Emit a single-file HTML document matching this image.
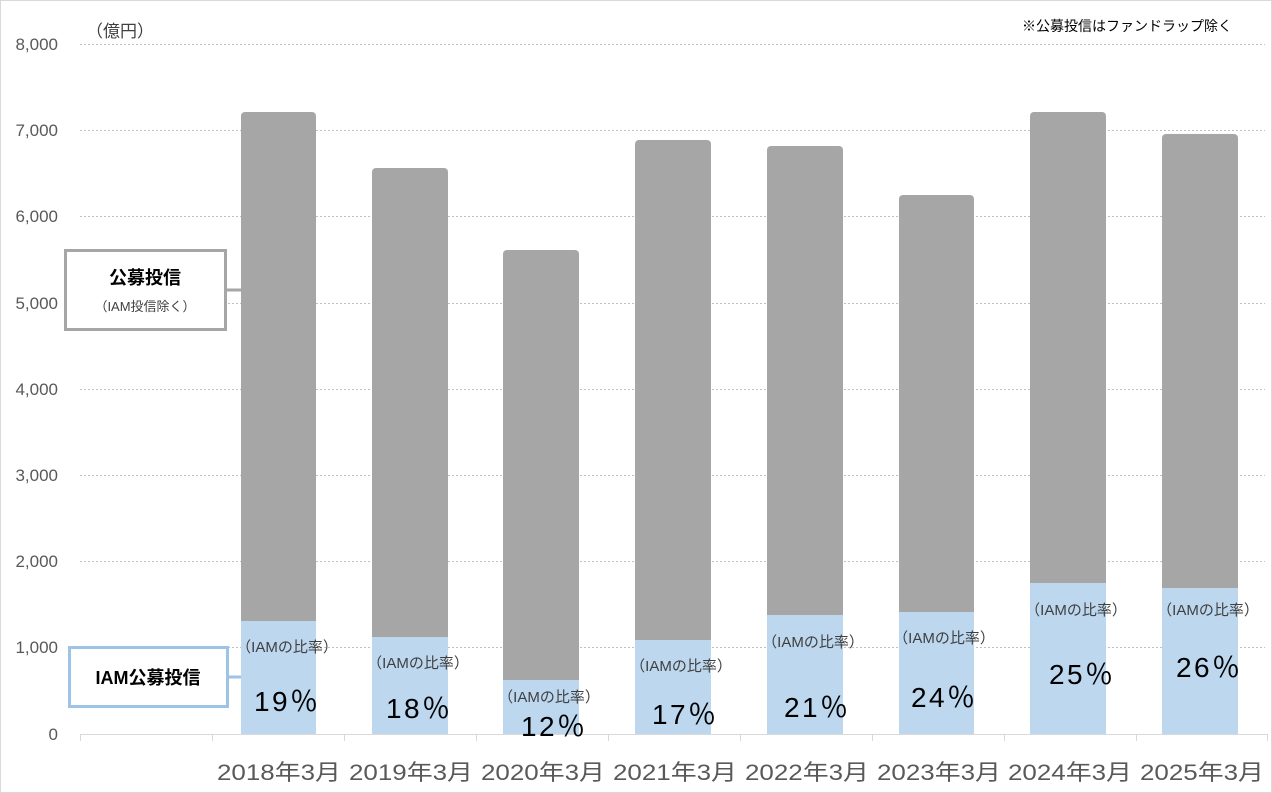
<!DOCTYPE html><html><head><meta charset="utf-8"><style>
body{margin:0;background:#fff}
svg{display:block;font-family:"Liberation Sans","Noto Sans CJK JP",sans-serif}
</style></head><body>
<svg width="1272" height="793" viewBox="0 0 1272 793">
<rect x="0.5" y="0.5" width="1271" height="792" fill="#fff" stroke="#d9d9d9"/>
<g stroke="#bfbfbf" stroke-dasharray="2,2" stroke-width="1">
<line x1="80" x2="1265" y1="44.5" y2="44.5"/><line x1="80" x2="1265" y1="130.5" y2="130.5"/>
<line x1="80" x2="1265" y1="216.5" y2="216.5"/><line x1="80" x2="1265" y1="303.5" y2="303.5"/>
<line x1="80" x2="1265" y1="389.5" y2="389.5"/><line x1="80" x2="1265" y1="475.5" y2="475.5"/>
<line x1="80" x2="1265" y1="561.5" y2="561.5"/><line x1="80" x2="1265" y1="647.5" y2="647.5"/>
</g>
<g fill="#595959" font-size="17" text-anchor="end">
<text x="58" y="50">8,000</text><text x="58" y="136">7,000</text><text x="58" y="222">6,000</text>
<text x="58" y="309">5,000</text><text x="58" y="395">4,000</text><text x="58" y="481">3,000</text>
<text x="58" y="567">2,000</text><text x="58" y="653">1,000</text><text x="58" y="740">0</text>
</g>
<text x="86" y="37" font-size="17" fill="#404040">（億円）</text>
<text x="1232" y="31" font-size="14" fill="#000" text-anchor="end">※公募投信はファンドラップ除く</text>
<g fill="#a6a6a6">
<rect x="241" y="112" width="75" height="520" rx="4"/>
<rect x="372" y="168" width="76" height="480" rx="4"/>
<rect x="503" y="250" width="76" height="440" rx="4"/>
<rect x="635" y="140" width="76" height="510" rx="4"/>
<rect x="767" y="146" width="76" height="480" rx="4"/>
<rect x="899" y="195" width="75" height="427" rx="4"/>
<rect x="1030" y="112" width="76" height="481" rx="4"/>
<rect x="1162" y="134" width="76" height="464" rx="4"/>
</g>
<g fill="#bdd7ee">
<rect x="241" y="621" width="75" height="113"/>
<rect x="372" y="637" width="76" height="97"/>
<rect x="503" y="680" width="76" height="54"/>
<rect x="635" y="640" width="76" height="94"/>
<rect x="767" y="615" width="76" height="119"/>
<rect x="899" y="612" width="75" height="122"/>
<rect x="1030" y="583" width="76" height="151"/>
<rect x="1162" y="588" width="76" height="146"/>
</g>
<line x1="80" x2="1268" y1="734.5" y2="734.5" stroke="#d9d9d9"/>
<g stroke="#d9d9d9"><line x1="80.5" x2="80.5" y1="734" y2="741"/><line x1="212.5" x2="212.5" y1="734" y2="741"/><line x1="344.5" x2="344.5" y1="734" y2="741"/><line x1="476.5" x2="476.5" y1="734" y2="741"/><line x1="608.5" x2="608.5" y1="734" y2="741"/><line x1="740.5" x2="740.5" y1="734" y2="741"/><line x1="872.5" x2="872.5" y1="734" y2="741"/><line x1="1004.5" x2="1004.5" y1="734" y2="741"/><line x1="1136.5" x2="1136.5" y1="734" y2="741"/><line x1="1267.5" x2="1267.5" y1="734" y2="741"/></g>
<g fill="#595959" font-size="22" text-anchor="middle" lengthAdjust="spacingAndGlyphs">
<text x="279" y="780" textLength="124" lengthAdjust="spacingAndGlyphs">2018年3月</text>
<text x="411" y="780" textLength="124" lengthAdjust="spacingAndGlyphs">2019年3月</text>
<text x="543" y="780" textLength="124" lengthAdjust="spacingAndGlyphs">2020年3月</text>
<text x="675" y="780" textLength="124" lengthAdjust="spacingAndGlyphs">2021年3月</text>
<text x="807" y="780" textLength="124" lengthAdjust="spacingAndGlyphs">2022年3月</text>
<text x="939" y="780" textLength="124" lengthAdjust="spacingAndGlyphs">2023年3月</text>
<text x="1070" y="780" textLength="124" lengthAdjust="spacingAndGlyphs">2024年3月</text>
<text x="1202" y="780" textLength="124" lengthAdjust="spacingAndGlyphs">2025年3月</text>
</g>
<g font-size="15" fill="#404040" text-anchor="middle">
<text x="287" y="652">（IAMの比率）</text><text x="418" y="668">（IAMの比率）</text><text x="549" y="702">（IAMの比率）</text>
<text x="681" y="671">（IAMの比率）</text><text x="813" y="647">（IAMの比率）</text><text x="944" y="643">（IAMの比率）</text>
<text x="1076" y="615">（IAMの比率）</text><text x="1208" y="615">（IAMの比率）</text>
</g>
<g font-size="28" fill="#000" text-anchor="middle">
<text x="286" y="711" textLength="64" lengthAdjust="spacing">19％</text><text x="418" y="718" textLength="64" lengthAdjust="spacing">18％</text><text x="553" y="736" textLength="64" lengthAdjust="spacing">12％</text>
<text x="684" y="724" textLength="64" lengthAdjust="spacing">17％</text><text x="816" y="717" textLength="64" lengthAdjust="spacing">21％</text><text x="943" y="707" textLength="64" lengthAdjust="spacing">24％</text>
<text x="1081" y="684" textLength="64" lengthAdjust="spacing">25％</text><text x="1208" y="677" textLength="64" lengthAdjust="spacing">26％</text>
</g>
<line x1="227" x2="241" y1="290" y2="290" stroke="#a6a6a6" stroke-width="3"/>
<rect x="65.5" y="250.5" width="160" height="79" fill="#fff" stroke="#a6a6a6" stroke-width="3"/>
<text x="145" y="284" font-size="18" font-weight="bold" text-anchor="middle">公募投信</text>
<text x="145" y="311" font-size="13" text-anchor="middle" fill="#404040">（IAM投信除く）</text>
<line x1="228" x2="241" y1="677" y2="677" stroke="#9dc3e6" stroke-width="3"/>
<rect x="69.5" y="647.5" width="158" height="59" fill="#fff" stroke="#9dc3e6" stroke-width="3"/>
<text x="148" y="684" font-size="18" font-weight="bold" text-anchor="middle">IAM公募投信</text>
</svg>
</body></html>
